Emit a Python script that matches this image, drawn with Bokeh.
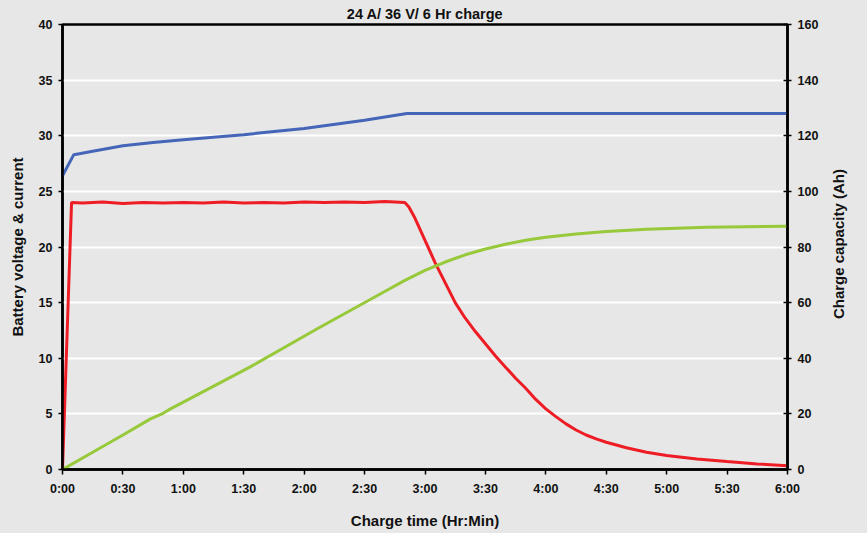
import math
from bokeh.plotting import figure
from bokeh.layouts import row
from bokeh.models import Range1d, LinearAxis, FixedTicker, Title, Label
from bokeh.embed import file_html
from bokeh.resources import INLINE

# ---- data (time in minutes) ----
volt_t = [0, 5.6, 9, 15, 30, 45, 60, 90, 120, 150, 171, 200, 250, 300, 360]
volt_v = [26.4, 28.3, 28.4, 28.6, 29.1, 29.4, 29.65, 30.1, 30.65, 31.4, 32.0, 32.0, 32.0, 32.0, 32.0]

curr_t = [0, 4.5, 10, 20, 30, 40, 50, 60, 70, 80, 90, 100, 110, 120, 130, 140, 150, 160, 170,
          172, 175, 180, 185, 190, 195, 200, 205, 210, 215, 220, 225, 230, 235, 240, 245, 250,
          255, 260, 265, 270, 280, 290, 300, 315, 330, 345, 360]
curr_a = [0, 24.0, 23.95, 24.05, 23.9, 24.0, 23.95, 24.0, 23.95, 24.05, 23.95, 24.0, 23.95, 24.05,
          24.0, 24.05, 24.0, 24.1, 24.0,
          23.6, 22.6, 20.6, 18.6, 16.8, 15.0, 13.6, 12.4, 11.3, 10.2, 9.2, 8.2, 7.3, 6.3, 5.45,
          4.75, 4.1, 3.55, 3.1, 2.75, 2.45, 1.95, 1.55, 1.26, 0.95, 0.72, 0.5, 0.33]

cap_t = [0, 15, 30, 43.7, 50, 53.6, 60, 93, 126.5, 160, 170, 180, 190, 200, 210, 220, 230, 240,
         255, 270, 290, 320, 360]
cap_ah = [0, 6.2, 12.4, 18.2, 20.2, 21.8, 24.2, 36.8, 50.6, 64.0, 68.0, 71.6, 74.6, 77.2, 79.3,
          81.0, 82.4, 83.5, 84.7, 85.6, 86.4, 87.1, 87.5]

x_ticks = [0, 30, 60, 90, 120, 150, 180, 210, 240, 270, 300, 330, 360]
x_tick_labels = ["0:00", "0:30", "1:00", "1:30", "2:00", "2:30", "3:00",
                 "3:30", "4:00", "4:30", "5:00", "5:30", "6:00"]
left_ticks = [0, 5, 10, 15, 20, 25, 30, 35, 40]
right_ticks = [0, 20, 40, 60, 80, 100, 120, 140, 160]
right_title = "Charge capacity (Ah)"

BG = "#e6e7e6"
FONT = "Liberation Sans"

p = figure(width=823, height=533, output_backend="svg", toolbar_location=None,
           x_range=Range1d(0, 360), y_range=Range1d(0, 40),
           background_fill_color=BG, border_fill_color=BG,
           min_border_left=62, min_border_right=36, min_border_top=24, min_border_bottom=64)
p.title = None
t = Title(text="24 A/ 36 V/ 6 Hr charge", align="center", text_font=FONT,
          text_font_size="14.5px", text_font_style="bold", text_color="#111111",
          standoff=6, offset=0)
p.add_layout(t, "above")
p.extra_y_ranges = {"cap": Range1d(0, 160)}

p.outline_line_color = "black"
p.outline_line_width = 2.5

# grid
p.xgrid.visible = False
p.ygrid.ticker = FixedTicker(ticks=left_ticks)
p.ygrid.grid_line_color = "white"
p.ygrid.grid_line_width = 2

# bottom axis
xa = p.xaxis[0]
xa.ticker = FixedTicker(ticks=x_ticks)
xa.major_label_overrides = {tk: lb for tk, lb in zip(x_ticks, x_tick_labels)}
xa.axis_label = "Charge time (Hr:Min)"

# left axis
ya = p.yaxis[0]
ya.ticker = FixedTicker(ticks=left_ticks)
ya.axis_label = "Battery voltage & current"

# right axis
ra = LinearAxis(y_range_name="cap", ticker=FixedTicker(ticks=right_ticks))
p.add_layout(ra, "right")

for ax in (xa, ya, ra):
    ax.axis_line_color = "black"
    ax.axis_line_width = 2.5
    ax.major_tick_line_color = "black"
    ax.major_tick_line_width = 1.5
    ax.minor_tick_line_color = None
    ax.major_tick_out = 4
    ax.major_tick_in = 0
    ax.major_label_text_font = FONT
    ax.major_label_text_font_size = "12.5px"
    ax.major_label_text_font_style = "bold"
    ax.major_label_text_color = "#111111"
    ax.axis_label_text_font = FONT
    ax.axis_label_text_font_size = "15px"
    ax.axis_label_text_font_style = "bold"
    ax.axis_label_text_color = "#111111"
    ax.major_label_standoff = 6

ra.major_tick_in = 4
xa.major_tick_out = 5
xa.major_label_standoff = 7
xa.axis_label_standoff = 13
ya.axis_label_standoff = 10

# lines
p.line(volt_t, volt_v, line_color="#4565b8", line_width=3)
p.line(curr_t, curr_a, line_color="#ee1d25", line_width=3)
p.line(cap_t, cap_ah, line_color="#97c93a", line_width=3, y_range_name="cap")

# narrow side panel holding the right-axis title (reads bottom-to-top)
p2 = figure(width=44, height=533, output_backend="svg", toolbar_location=None,
            x_range=Range1d(0, 44), y_range=Range1d(0, 533),
            background_fill_color=BG, border_fill_color=BG, min_border=0)
p2.outline_line_color = None
p2.axis.visible = False
p2.grid.visible = False
p2.add_layout(Label(x=15, y=270, text=right_title, angle=math.pi / 2,
                    text_align="center", text_baseline="middle",
                    text_font=FONT, text_font_size="15px", text_font_style="bold",
                    text_color="#111111"))

layout = row(p, p2, spacing=0)
html = file_html(layout, INLINE)
html = html.replace("<head>", "<head><style>html,body{background:%s;}</style>" % BG, 1)
open("out.html", "w").write(html)
